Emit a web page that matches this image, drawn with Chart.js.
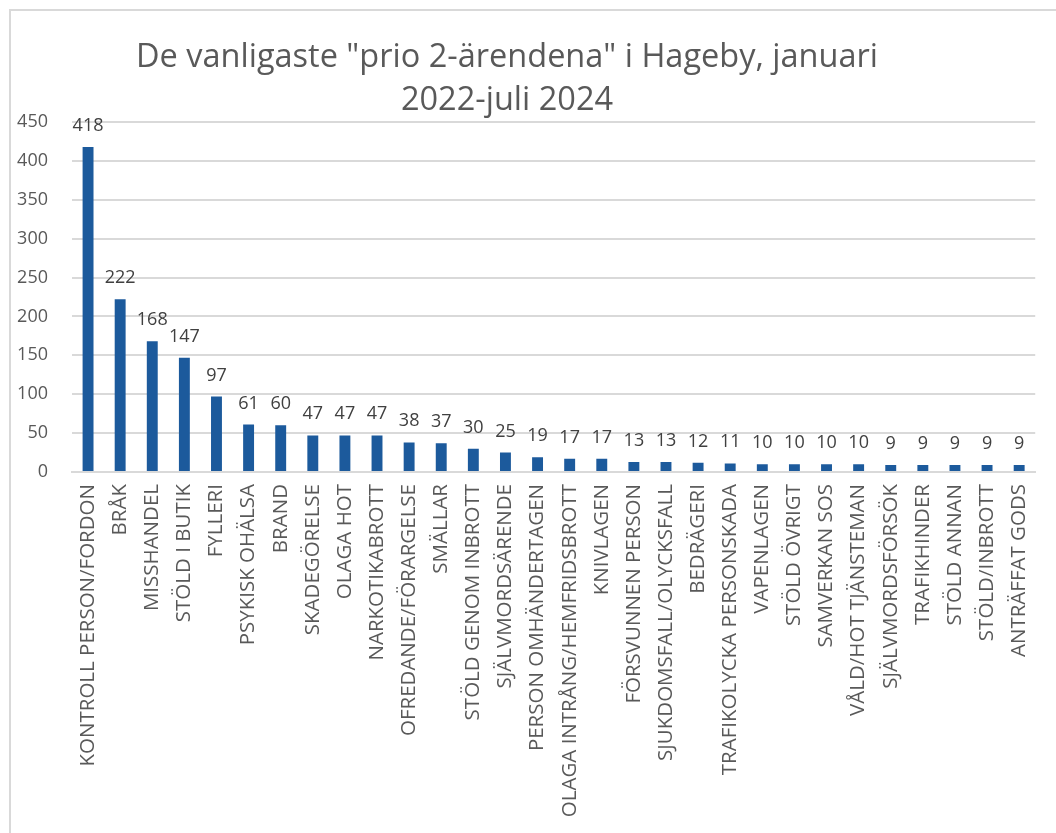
<!DOCTYPE html>
<html>
<head>
<meta charset="utf-8">
<script src="https://cdn.jsdelivr.net/npm/chart.js@4"></script>
<style>
  html, body { margin: 0; padding: 0; background: #fff; }
  #wrap { position: relative; width: 1056px; height: 833px; overflow: hidden; }
  #frame { position: absolute; left: 9px; top: 9px; width: 1100px; height: 900px; border: 2px solid #d9d9d9; box-sizing: border-box; }
  canvas { position: absolute; left: 0; top: 0; }
</style>
</head>
<body>
<div id="wrap">
  <div id="frame"></div>
  <canvas id="prioChart" width="1056" height="833"></canvas>
</div>
<script>
// Data
const titleLines = ['De vanligaste "prio 2-ärendena" i Hageby, januari', '2022-juli 2024'];
const categories = [
    'KONTROLL PERSON/FORDON', 'BRÅK', 'MISSHANDEL', 'STÖLD I BUTIK', 'FYLLERI',
    'PSYKISK OHÄLSA', 'BRAND', 'SKADEGÖRELSE', 'OLAGA HOT', 'NARKOTIKABROTT',
    'OFREDANDE/FÖRARGELSE', 'SMÄLLAR', 'STÖLD GENOM INBROTT', 'SJÄLVMORDSÄRENDE', 'PERSON OMHÄNDERTAGEN',
    'OLAGA INTRÅNG/HEMFRIDSBROTT', 'KNIVLAGEN', 'FÖRSVUNNEN PERSON', 'SJUKDOMSFALL/OLYCKSFALL', 'BEDRÄGERI',
    'TRAFIKOLYCKA PERSONSKADA', 'VAPENLAGEN', 'STÖLD ÖVRIGT', 'SAMVERKAN SOS', 'VÅLD/HOT TJÄNSTEMAN',
    'SJÄLVMORDSFÖRSÖK', 'TRAFIKHINDER', 'STÖLD ANNAN', 'STÖLD/INBROTT', 'ANTRÄFFAT GODS'
];
const counts = [418, 222, 168, 147, 97, 61, 60, 47, 47, 47, 38, 37, 30, 25, 19, 17, 17, 13, 13, 12, 11, 10, 10, 10, 10, 9, 9, 9, 9, 9];
const yMax = 450;
const yStep = 50;

const textColor = '#595959';
const fontFamily = '"Open Sans", sans-serif';

// Titel ritas manuellt för att kunna centrera som i originalet
const titlePlugin = {
    id: 'manualTitle',
    afterDraw(chart) {
        const ctx = chart.ctx;
        ctx.save();
        ctx.fillStyle = textColor;
        ctx.font = '32.5px ' + fontFamily;
        ctx.textAlign = 'center';
        ctx.textBaseline = 'middle';
        titleLines.forEach((line, i) => ctx.fillText(line, 507, 58 + i * 43));
        ctx.restore();
    }
};

// Värden ovanför staplarna
const valueLabels = {
    id: 'valueLabels',
    afterDatasetsDraw(chart) {
        const ctx = chart.ctx;
        const meta = chart.getDatasetMeta(0);
        ctx.save();
        ctx.fillStyle = '#404040';
        ctx.font = '18px ' + fontFamily;
        ctx.textAlign = 'center';
        ctx.textBaseline = 'alphabetic';
        meta.data.forEach((bar, i) => {
            ctx.fillText(String(counts[i]), bar.x, bar.y - 16);
        });
        ctx.restore();
    }
};

const ctx = document.getElementById('prioChart').getContext('2d');
new Chart(ctx, {
    type: 'bar',
    data: {
        labels: categories,
        datasets: [{
            data: counts,
            backgroundColor: '#1c5a9c',
            barPercentage: 0.34,
            categoryPercentage: 1.0
        }]
    },
    options: {
        responsive: false,
        animation: false,
        layout: { padding: { top: 122, left: 10, right: 14, bottom: 0 } },
        scales: {
            x: {
                grid: { display: false, drawTicks: false },
                border: { display: true, color: '#d9d9d9', width: 2 },
                ticks: {
                    color: textColor,
                    font: { size: 20.5, family: fontFamily },
                    minRotation: 90,
                    maxRotation: 90,
                    autoSkip: false,
                    padding: 12
                },
                afterFit(scale) { scale.height = 361; }
            },
            y: {
                min: 0,
                max: yMax,
                grid: { color: '#d9d9d9', lineWidth: 2, drawTicks: false },
                border: { display: false },
                ticks: {
                    stepSize: yStep,
                    color: textColor,
                    font: { size: 18, family: fontFamily },
                    padding: 24
                },
                afterFit(scale) { scale.width = 62; }
            }
        },
        plugins: {
            legend: { display: false },
            title: { display: false },
            tooltip: { enabled: false }
        }
    },
    plugins: [titlePlugin, valueLabels]
});
</script>
</body>
</html>
